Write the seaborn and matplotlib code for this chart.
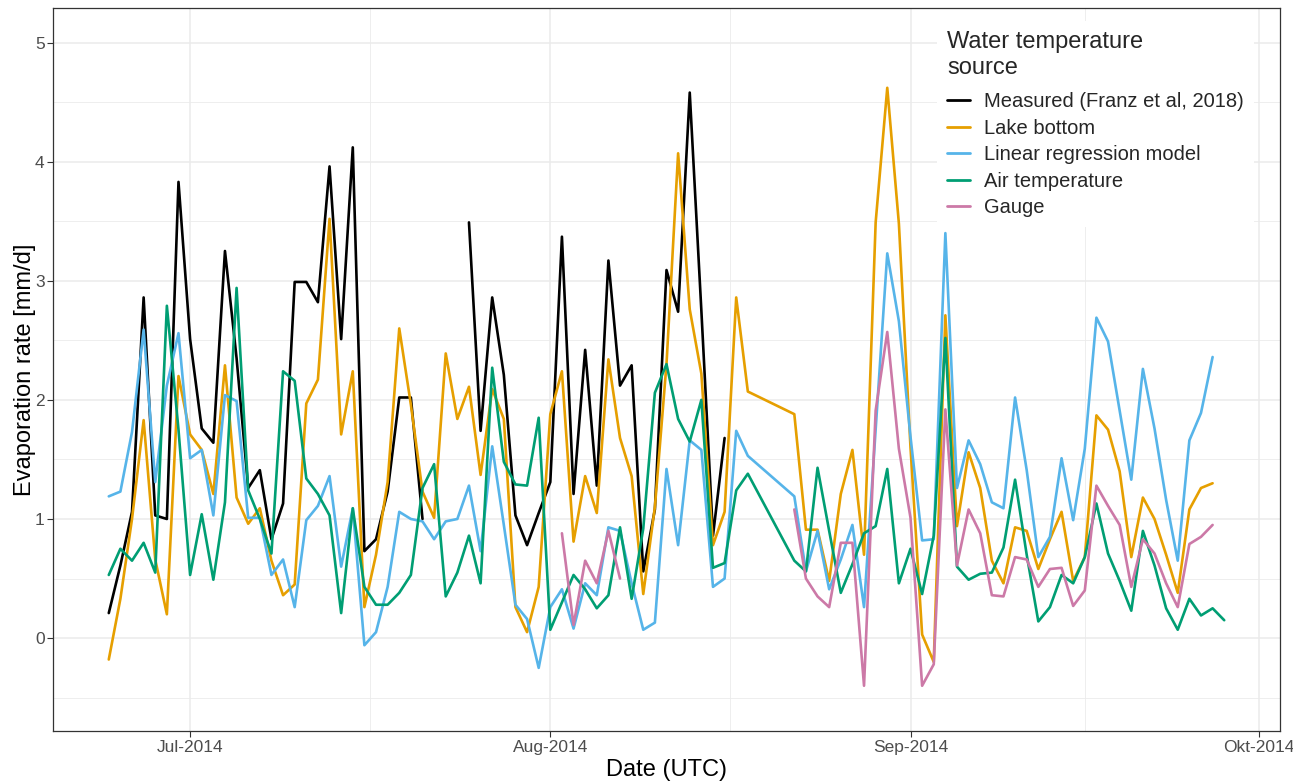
import numpy as np
import pandas as pd
import matplotlib
matplotlib.use("Agg")
import matplotlib.pyplot as plt
import matplotlib.dates as mdates
from matplotlib.ticker import MultipleLocator, FixedLocator
import seaborn as sns

nan = np.nan

# Daily dates (no rows for 19-21 Aug 2014)
dates = list(pd.date_range("2014-06-24", "2014-08-18")) + list(pd.date_range("2014-08-22", "2014-09-28"))

# Evaporation rate [mm/d] per water temperature source
measured = [
    0.21, 0.61, 1.06, 2.86, 1.03, 1.00, 3.83, 2.51, 1.76, 1.64,
    3.25, 2.35, 1.26, 1.41, 0.83, 1.13, 2.99, 2.99, 2.82, 3.96,
    2.51, 4.12, 0.73, 0.83, 1.23, 2.02, 2.02, 1.00, nan, nan,
    nan, 3.49, 1.74, 2.86, 2.21, 1.03, 0.78, 1.05, 1.31, 3.37,
    1.21, 2.42, 1.28, 3.17, 2.12, 2.29, 0.56, 1.08, 3.09, 2.74,
    4.58, 2.75, 0.86, 1.68, nan, nan,
    nan, nan, nan, nan, nan, nan, nan, nan, nan, nan,
    nan, nan, nan, nan, nan, nan, nan, nan, nan, nan,
    nan, nan, nan, nan, nan, nan, nan, nan, nan, nan,
    nan, nan, nan, nan, nan, nan, nan, nan,
]
lake_bottom = [
    -0.18, 0.33, 1.00, 1.83, 0.66, 0.20, 2.20, 1.71, 1.58, 1.21,
    2.29, 1.18, 0.96, 1.09, 0.65, 0.36, 0.45, 1.97, 2.17, 3.52,
    1.71, 2.24, 0.26, 0.70, 1.31, 2.60, 1.96, 1.23, 1.01, 2.39,
    1.84, 2.11, 1.37, 2.09, 1.84, 0.26, 0.05, 0.43, 1.88, 2.24,
    0.81, 1.36, 1.05, 2.34, 1.68, 1.36, 0.37, 1.10, 2.30, 4.07,
    2.76, 2.22, 0.78, 1.06, 2.86, 2.07,
    1.88, 0.91, 0.91, 0.48, 1.21, 1.58, 0.70, 3.49, 4.62, 3.48,
    1.60, 0.03, -0.20, 2.71, 0.94, 1.56, 1.26, 0.65, 0.46, 0.93,
    0.90, 0.58, 0.83, 1.06, 0.48, 0.68, 1.87, 1.75, 1.40, 0.68,
    1.18, 1.00, 0.70, 0.38, 1.08, 1.26, 1.30, nan,
]
regression = [
    1.19, 1.23, 1.73, 2.59, 1.31, 2.12, 2.56, 1.51, 1.58, 1.03,
    2.04, 1.99, 1.01, 1.01, 0.53, 0.66, 0.26, 0.99, 1.11, 1.36,
    0.60, 1.09, -0.06, 0.05, 0.43, 1.06, 1.00, 0.98, 0.83, 0.98,
    1.00, 1.28, 0.73, 1.61, 0.95, 0.28, 0.16, -0.25, 0.26, 0.41,
    0.08, 0.46, 0.36, 0.93, 0.90, 0.46, 0.07, 0.13, 1.42, 0.78,
    1.66, 1.58, 0.43, 0.50, 1.74, 1.53,
    1.19, 0.56, 0.90, 0.41, 0.66, 0.95, 0.26, 1.75, 3.23, 2.66,
    1.69, 0.82, 0.83, 3.40, 1.26, 1.66, 1.46, 1.14, 1.09, 2.02,
    1.41, 0.68, 0.85, 1.51, 0.99, 1.59, 2.69, 2.49, 1.91, 1.33,
    2.26, 1.76, 1.16, 0.65, 1.66, 1.89, 2.36, nan,
]
air_temp = [
    0.53, 0.75, 0.65, 0.80, 0.55, 2.79, 1.75, 0.53, 1.04, 0.49,
    1.14, 2.94, 1.24, 1.00, 0.71, 2.24, 2.16, 1.34, 1.21, 1.03,
    0.21, 1.09, 0.43, 0.28, 0.28, 0.38, 0.53, 1.26, 1.46, 0.35,
    0.55, 0.86, 0.46, 2.27, 1.48, 1.29, 1.28, 1.85, 0.07, 0.30,
    0.53, 0.41, 0.25, 0.36, 0.93, 0.33, 0.92, 2.06, 2.30, 1.84,
    1.65, 2.00, 0.59, 0.63, 1.24, 1.38,
    0.65, 0.56, 1.43, 0.90, 0.38, 0.62, 0.88, 0.94, 1.42, 0.46,
    0.75, 0.37, 0.86, 2.52, 0.60, 0.49, 0.54, 0.55, 0.76, 1.33,
    0.70, 0.14, 0.26, 0.53, 0.46, 0.68, 1.13, 0.71, 0.48, 0.23,
    0.90, 0.61, 0.25, 0.07, 0.33, 0.19, 0.25, 0.15,
]
gauge = [
    nan, nan, nan, nan, nan, nan, nan, nan, nan, nan,
    nan, nan, nan, nan, nan, nan, nan, nan, nan, nan,
    nan, nan, nan, nan, nan, nan, nan, nan, nan, nan,
    nan, nan, nan, nan, nan, nan, nan, nan, nan, 0.88,
    0.11, 0.65, 0.46, 0.90, 0.50, nan, nan, nan, nan, nan,
    nan, nan, nan, nan, nan, nan,
    1.08, 0.50, 0.35, 0.26, 0.80, 0.80, -0.40, 1.91, 2.57, 1.59,
    1.01, -0.40, -0.22, 1.92, 0.61, 1.08, 0.88, 0.36, 0.35, 0.68,
    0.66, 0.43, 0.58, 0.59, 0.27, 0.40, 1.28, 1.11, 0.95, 0.43,
    0.83, 0.71, 0.46, 0.26, 0.79, 0.85, 0.95, nan,
]

sources = ["Measured (Franz et al, 2018)", "Lake bottom", "Linear regression model",
           "Air temperature", "Gauge"]
colors = ["#000000", "#E69F00", "#56B4E9", "#009E73", "#CC79A7"]
tick_dates = ["2014-07-01", "2014-08-01", "2014-09-01", "2014-10-01"]
tick_labels = ["Jul-2014", "Aug-2014", "Sep-2014", "Okt-2014"]

# Long format; missing values split a series into separate line segments
frames = []
for name, vals in zip(sources, [measured, lake_bottom, regression, air_temp, gauge]):
    s = pd.DataFrame({"date": dates, "rate": vals})
    s["segment"] = name + "_" + s["rate"].isna().cumsum().astype(str)
    s["source"] = name
    frames.append(s.dropna())
df = pd.concat(frames, ignore_index=True)

sns.set_theme(style="white")
plt.rcParams["font.family"] = ["Liberation Sans", "DejaVu Sans"]

fig, ax = plt.subplots(figsize=(12.93, 7.84), dpi=100)
fig.subplots_adjust(left=53 / 1293, right=1280 / 1293, top=1 - 8 / 784, bottom=1 - 731 / 784)

sns.lineplot(data=df, x="date", y="rate", hue="source", hue_order=sources,
             palette=dict(zip(sources, colors)), units="segment", estimator=None,
             linewidth=1.9, ax=ax)

# Axes ranges
d0 = mdates.date2num(pd.Timestamp(dates[0]))
d1 = mdates.date2num(pd.Timestamp(dates[-1]))
pad = 0.05 * (d1 - d0)
ax.set_xlim(d0 - pad, d1 + pad)
ax.set_ylim(-0.78, 5.29)

# Ticks and grid
major_x = [mdates.date2num(pd.Timestamp(t)) for t in tick_dates]
minor_x = [mdates.date2num(pd.Timestamp("2014-06-01")) / 2 + major_x[0] / 2]
minor_x += [(a + b) / 2 for a, b in zip(major_x[:-1], major_x[1:])]
ax.xaxis.set_major_locator(FixedLocator(major_x))
ax.xaxis.set_minor_locator(FixedLocator(minor_x))
ax.set_xticklabels(tick_labels)
ax.yaxis.set_major_locator(MultipleLocator(1))
ax.yaxis.set_minor_locator(MultipleLocator(0.5))

ax.set_axisbelow(True)
ax.grid(which="major", color="#EBEBEB", linewidth=1.1)
ax.grid(which="minor", color="#EBEBEB", linewidth=0.6)
ax.tick_params(which="major", direction="out", length=4, width=0.8, color="#333333",
               labelsize=12.5, labelcolor="#4D4D4D", pad=2.5,
               bottom=True, left=True)
ax.tick_params(axis="y", which="major", pad=2)
ax.tick_params(which="minor", length=0)
for sp in ax.spines.values():
    sp.set_color("#333333")
    sp.set_linewidth(0.9)

ax.set_xlabel("Date (UTC)", fontsize=17, color="black", labelpad=3)
ax.set_ylabel("Evaporation rate [mm/d]", fontsize=17, color="black")
ax.yaxis.set_label_coords(-0.0135, 0.5)

handles, labels = ax.get_legend_handles_labels()
for h in handles:
    h.set_linewidth(2.0)
leg = ax.legend(handles, labels, title="Water temperature\nsource", loc="upper left",
                bbox_to_anchor=(927 / 1293, 1 - 11 / 784), bbox_transform=fig.transFigure,
                frameon=True, fancybox=False, framealpha=1, edgecolor="none",
                facecolor="white", fontsize=14.5, title_fontsize=17,
                handlelength=1.15, handletextpad=0.7, labelspacing=0.37,
                borderpad=0.5, alignment="left")
# extra room between the legend title and its entries
leg._legend_box.sep = 10

fig.savefig("out.png", dpi=100)
